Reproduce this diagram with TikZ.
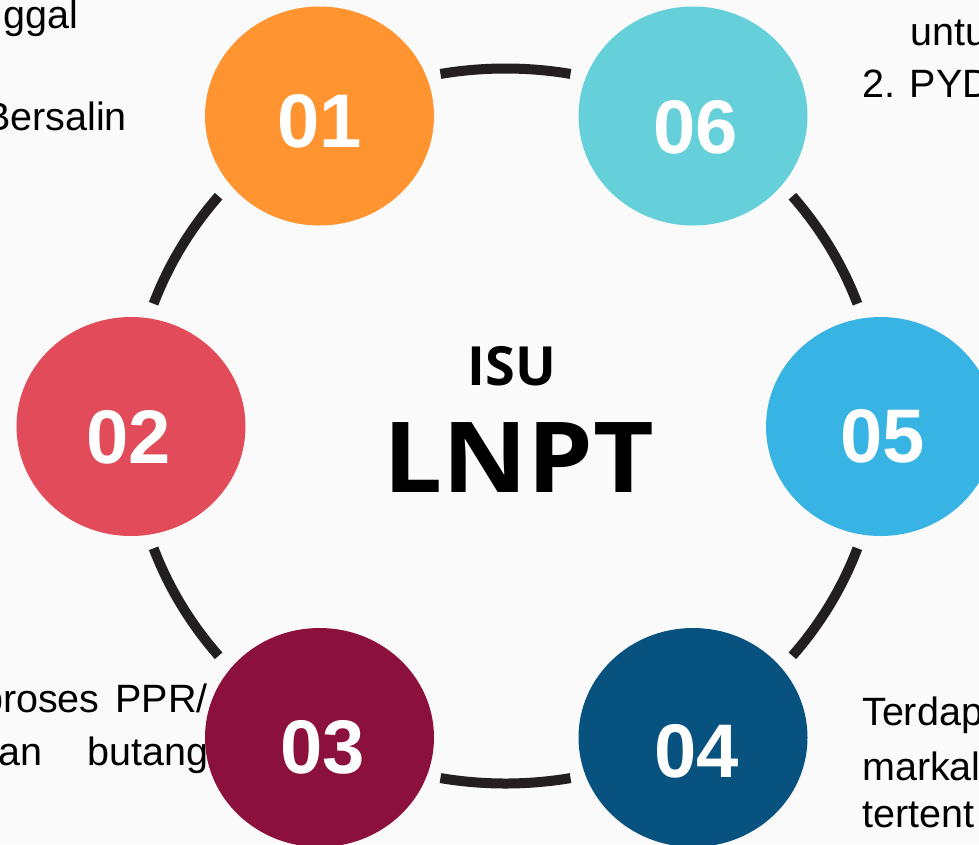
\documentclass[tikz,border=0pt]{standalone}
\usepackage{fontspec}
\setmainfont{Liberation Sans}
\newfontfamily\osfont{Open Sans}
\usetikzlibrary{shapes.geometric}
\definecolor{bg}{HTML}{FAFAFA}
\definecolor{c01}{HTML}{FF9430}
\definecolor{c02}{HTML}{E24C5A}
\definecolor{c03}{HTML}{8C103C}
\definecolor{c04}{HTML}{07527F}
\definecolor{c05}{HTML}{37B3E4}
\definecolor{c06}{HTML}{66D0DA}
\definecolor{arcc}{HTML}{231F20}
\begin{document}
\begin{tikzpicture}[x=1pt,y=-1pt,
  bubble/.style={ellipse,minimum width=229pt,minimum height=219pt,inner sep=0pt,draw=none},
  num/.style={text=white,font=\fontsize{76}{76}\selectfont\bfseries,inner sep=0pt},
  body/.style={font=\fontsize{39.5}{39.5}\selectfont,inner sep=0pt,text=black},
  ringarc/.style={draw=arcc,line width=10pt}]
\useasboundingbox (0,0) rectangle (979,844);
\fill[bg] (0,0) rectangle (979,844);
\clip (0,0) rectangle (979,844);
% side texts
\node[body,anchor=base east] (tl1) at (78,28) {ggal};
\node[body,anchor=base east] (tl2) at (127,130) {Bersalin};
\node[body,anchor=base west] (tr1) at (910,45) {untu};
\node[body,anchor=base west] (tr2) at (862,97) {2. PYD};
\node[body,anchor=base east] (bl1) at (208,712) {proses\hspace{16pt}PPR/};
\node[body,anchor=base west] (bl2a) at (-2,765) {an};
\node[body,anchor=base east] (bl2b) at (209,765) {butang};
\node[body,anchor=base west] (br1) at (862,725) {Terdap};
\node[body,anchor=base west] (br2) at (862,780) {markal};
\node[body,anchor=base west] (br3) at (862,827) {tertent};
% ring arcs
\coordinate (ring) at (505.5,426);
\foreach \m [evaluate=\m as \s using \m-10, evaluate=\m as \e using \m+10] in {30,90,150,210,270,330}
  \draw[ringarc,shift={(ring)}] (\s:374.5 and 357.5) arc[start angle=\s,end angle=\e,x radius=374.5,y radius=357.5];
% bubbles
\node[bubble,fill=c01] (b01) at (319.5,116) {};
\node[bubble,fill=c06] (b06) at (693,116) {};
\node[bubble,fill=c05] (b05) at (880.5,426.5) {};
\node[bubble,fill=c04] (b04) at (693,737.5) {};
\node[bubble,fill=c03] (b03) at (319.5,737.5) {};
\node[bubble,fill=c02] (b02) at (131,426.5) {};
% numbers
\node[num] (n01) at (319.5,121.5) {01};
\node[num] (n06) at (695.5,127.5) {06};
\node[num] (n05) at (882.5,436.5) {05};
\node[num] (n04) at (697,751) {04};
\node[num] (n03) at (322.5,747) {03};
\node[num] (n02) at (128.5,437.5) {02};
% centre title
\node[inner sep=0pt,anchor=base,font=\osfont\bfseries\fontsize{54}{54}\selectfont] (isu) at (512,385) {ISU};
\node[inner sep=0pt,anchor=base,font=\osfont\bfseries\fontsize{98}{98}\selectfont] (lnpt) at (519,492) {\scalebox{1.07}[1]{LNPT}};
\end{tikzpicture}
\end{document}
